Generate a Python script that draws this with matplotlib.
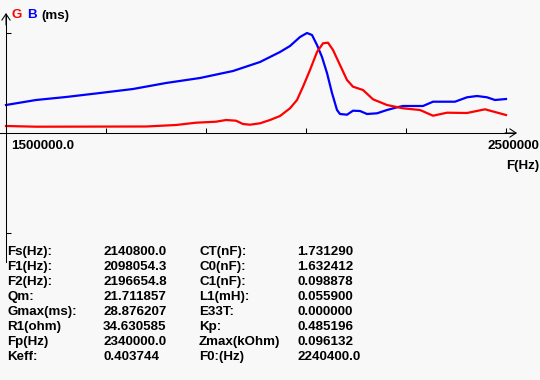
import matplotlib
matplotlib.use("Agg")
import matplotlib.pyplot as plt

# --- data (G red, B blue, relative units, 100 = top tick) ---
b_freq = [1500000, 1560000, 1620000, 1688000, 1754000, 1820000, 1888000, 1954000,
          2008000, 2028000, 2048000, 2068000, 2088000, 2102000, 2112000, 2122000,
          2132000, 2142000, 2152000, 2162000, 2168000, 2182000, 2194000, 2208000,
          2222000, 2242000, 2262000, 2282000, 2294000, 2334000, 2354000, 2398000,
          2422000, 2442000, 2462000, 2478000, 2500000]
b_vals = [28, 33, 36, 40, 44, 50, 55, 62,
          71, 76, 81, 87, 96, 100, 98, 88,
          76, 60, 40, 23, 19, 18.3, 22.3, 22,
          19, 19.7, 23, 25.7, 27, 27, 31.3, 31.3,
          35.7, 37, 35.7, 33, 34]

g_freq = [1500000, 1560000, 1780000, 1840000, 1880000, 1920000, 1940000, 1960000,
          1974000, 1988000, 2008000, 2028000, 2048000, 2068000, 2082000, 2094000,
          2108000, 2122000, 2134000, 2144000, 2154000, 2168000, 2182000, 2194000,
          2214000, 2234000, 2262000, 2294000, 2328000, 2354000, 2382000, 2422000,
          2458000, 2500000]
g_vals = [7, 6.3, 6.5, 8, 10.3, 11.3, 13, 12.3,
          9, 8.3, 9.7, 13, 17, 24.7, 33, 46.3,
          63, 81, 89.7, 90.3, 83, 68, 53, 46.3,
          43, 33.7, 28, 24.7, 23, 17.3, 20.3, 20,
          23.7, 18]

F_MIN, F_MAX = 1500000, 2500000
x_ticks = [1500000, 1700000, 1900000, 2100000, 2300000, 2500000]
y_ticks = [-100, 100]

labels1 = ["Fs(Hz):", "F1(Hz):", "F2(Hz):", "Qm:", "Gmax(ms):", "R1(ohm)", "Fp(Hz)", "Keff:"]
values1 = ["2140800.0", "2098054.3", "2196654.8", "21.711857", "28.876207",
           "34.630585", "2340000.0", "0.403744"]
labels2 = ["CT(nF):", "C0(nF):", "C1(nF):", "L1(mH):", "E33T:", "Kp:", "Zmax(kOhm)", "F0:(Hz)"]
values2 = ["1.731290", "1.632412", "0.098878", "0.055900", "0.000000",
           "0.485196", "0.096132", "2240400.0"]

W, H = 540, 380
BG = "#f8f8f8"
HZ_PER_PX = 2000
X0 = F_MIN - 6 * HZ_PER_PX      # data value at the left edge of the figure
Y_AXIS_PX = 133                 # x axis row, pixels from the top
FS = 9.6

plt.rcParams["font.family"] = ["Liberation Sans", "DejaVu Sans"]

fig = plt.figure(figsize=(W / 100, H / 100), dpi=100, facecolor=BG)
ax = fig.add_axes([0, 0, 1, 1], facecolor=BG)
ax.set_xlim(X0, X0 + W * HZ_PER_PX)
ax.set_ylim(Y_AXIS_PX - H, Y_AXIS_PX)

ax.plot(b_freq, b_vals, color="#0000ff", lw=1.6)
ax.plot(g_freq, g_vals, color="#ff0000", lw=1.6)

# axes through the origin
for side in ("top", "right"):
    ax.spines[side].set_visible(False)
ax.spines["left"].set_position(("data", F_MIN))
ax.spines["bottom"].set_position(("data", 0))
ax.spines["left"].set_bounds(Y_AXIS_PX - 262, Y_AXIS_PX - 14)
ax.spines["bottom"].set_bounds(X0, X0 + 515 * HZ_PER_PX)
for sp in ("left", "bottom"):
    ax.spines[sp].set_linewidth(0.75)

ax.set_xticks(x_ticks)
ax.set_yticks(y_ticks)
ax.tick_params(direction="in", length=3.6, width=0.75, labelbottom=False, labelleft=False)

arrow = dict(arrowstyle="->, head_length=0.45, head_width=0.3", lw=0.75,
             color="black", shrinkA=0, shrinkB=0)
ax.annotate("", xy=(X0 + 517 * HZ_PER_PX, 0), xytext=(X0 + 505 * HZ_PER_PX, 0),
            arrowprops=arrow)
ax.annotate("", xy=(F_MIN, Y_AXIS_PX - 13), xytext=(F_MIN, Y_AXIS_PX - 25),
            arrowprops=arrow)


def put(px, py, s, color="black", ha="left"):
    fig.text(px / W, 1 - py / H, s, color=color, fontsize=FS, fontweight="bold",
             ha=ha, va="center")


put(12, 15.5, "G", "#ff0000")
put(27, 15.5, "B", "#0000ff")
put(41, 15.5, "(ms)")
put(11.5, 146, "1500000.0")
put(539, 146, "2500000", ha="right")
put(506, 166, "F(Hz)")

for i in range(len(labels1)):
    y = 251.7 + 15 * i
    put(7, y, labels1[i])
    put(103, y, values1[i])
    put(199, y, labels2[i])
    put(297, y, values2[i])

fig.savefig("out.png", dpi=100, facecolor=BG)
